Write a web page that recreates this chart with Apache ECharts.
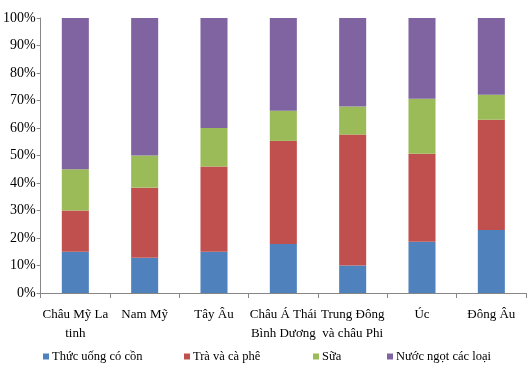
<!DOCTYPE html>
<html><head><meta charset="utf-8">
<script src="https://cdn.jsdelivr.net/npm/echarts@6/dist/echarts.min.js"></script>
<style>html,body{margin:0;padding:0;background:#fff}#c{width:530px;height:380px}</style>
</head><body><div id="c"></div>
<script>
const categories = ["Châu Mỹ La\ntinh", "Nam Mỹ", "Tây Âu", "Châu Á Thái\nBình Dương", "Trung Đông\nvà châu Phi", "Úc", "Đông Âu"];
const alcohol = [15, 12.8, 15, 17.8, 10, 18.6, 22.9];
const teaCoffee = [15, 25.5, 31, 37.5, 47.6, 32, 40.1];
const milk = [15, 11.7, 14, 11, 10.2, 20, 9.1];
const softDrinks = [55, 50, 40, 33.7, 32.2, 29.4, 27.9];
const seriesNames = ["Thức uống có cồn", "Trà và cà phê", "Sữa", "Nước ngọt các loại"];
const colors = ["#4F81BD", "#C0504D", "#9BBB59", "#8064A2"];
const font = "Liberation Serif";
const chart = echarts.init(document.getElementById('c'));
const dataSets = [alcohol, teaCoffee, milk, softDrinks];
const legendLefts = [43, 184, 313, 387];
chart.setOption({
  animation: false,
  color: colors,
  grid: {left: 40, right: 4, top: 18, bottom: 87},
  legend: seriesNames.map((n, i) => ({
    data: [n], left: legendLefts[i], top: 350, padding: 0, itemWidth: 6, itemHeight: 6, icon: 'rect',
    textStyle: {fontFamily: font, fontSize: 12.5, color: '#000', padding: [0, 0, 0, -2]}
  })),
  xAxis: {
    type: 'category', data: categories,
    axisLine: {lineStyle: {color: '#868686'}},
    axisTick: {show: true, length: 5, lineStyle: {color: '#868686'}},
    axisLabel: {fontFamily: font, fontSize: 13, color: '#000', margin: 12, lineHeight: 19, interval: 0}
  },
  yAxis: {
    type: 'value', min: 0, max: 100, interval: 10,
    axisLine: {show: true, lineStyle: {color: '#868686'}},
    axisTick: {show: true, length: 4, lineStyle: {color: '#868686'}},
    splitLine: {show: false},
    axisLabel: {fontFamily: font, fontSize: 14, color: '#000', formatter: '{value}%', margin: 5}
  },
  series: seriesNames.map((n, i) => ({
    name: n, type: 'bar', stack: 'total', data: dataSets[i], barWidth: '39%'
  }))
});
</script></body></html>
